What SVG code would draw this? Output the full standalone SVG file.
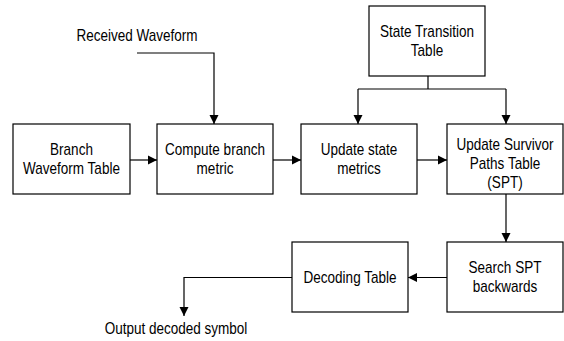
<svg xmlns="http://www.w3.org/2000/svg" width="564" height="341" viewBox="0 0 564 341">
  <defs>
    <style>
      .box { fill: #fff; stroke: #000; stroke-width: 1.2; }
      .wire { fill: none; stroke: #000; stroke-width: 1.2; }
      text { font-family: "Liberation Sans", Arial, sans-serif; font-size: 16px; fill: #000; text-anchor: middle; }
    </style>
    <marker id="arrow" markerUnits="userSpaceOnUse" markerWidth="10" markerHeight="10" viewBox="0 0 10 10" refX="9" refY="5" orient="auto">
      <path d="M0,0.5 L9,5 L0,9.5 Z" fill="#000"/>
    </marker>
  </defs>
  <rect width="564" height="341" fill="#fff"/>

  <!-- connectors -->
  <g id="connectors">
    <path class="wire" d="M137 53 H214 V124" marker-end="url(#arrow)"/>
    <path class="wire" d="M130 160 H157" marker-end="url(#arrow)"/>
    <path class="wire" d="M273 160 H301" marker-end="url(#arrow)"/>
    <path class="wire" d="M428 76 V89 M358 89 H506"/>
    <path class="wire" d="M358 89 V124" marker-end="url(#arrow)"/>
    <path class="wire" d="M506 89 V124" marker-end="url(#arrow)"/>
    <path class="wire" d="M417 160 H447" marker-end="url(#arrow)"/>
    <path class="wire" d="M506 194 V242" marker-end="url(#arrow)"/>
    <path class="wire" d="M447 277.5 H408" marker-end="url(#arrow)"/>
    <path class="wire" d="M292 277.5 H184 V316" marker-end="url(#arrow)"/>
  </g>

  <!-- free labels -->
  <g id="received-waveform">
    <text transform="translate(137 41) scale(0.845 1)">Received Waveform</text>
  </g>
  <g id="output-symbol">
    <text transform="translate(176 334) scale(0.845 1)">Output decoded symbol</text>
  </g>

  <!-- nodes -->
  <g id="branch-waveform-table">
    <rect class="box" x="13" y="124" width="117" height="70"/>
    <text transform="translate(71.5 155) scale(0.845 1)">Branch</text>
    <text transform="translate(71.5 174) scale(0.845 1)">Waveform Table</text>
  </g>
  <g id="compute-branch-metric">
    <rect class="box" x="157" y="124" width="116" height="70"/>
    <text transform="translate(215 155) scale(0.845 1)">Compute branch</text>
    <text transform="translate(215 174) scale(0.845 1)">metric</text>
  </g>
  <g id="state-transition-table">
    <rect class="box" x="369" y="6" width="116" height="70"/>
    <text transform="translate(427 37) scale(0.845 1)">State Transition</text>
    <text transform="translate(427 56) scale(0.845 1)">Table</text>
  </g>
  <g id="update-state-metrics">
    <rect class="box" x="301" y="124" width="116" height="70"/>
    <text transform="translate(359 155) scale(0.845 1)">Update state</text>
    <text transform="translate(359 174) scale(0.845 1)">metrics</text>
  </g>
  <g id="update-survivor-paths">
    <rect class="box" x="447" y="124" width="116" height="70"/>
    <text transform="translate(505 150) scale(0.845 1)">Update Survivor</text>
    <text transform="translate(505 169) scale(0.845 1)">Paths Table</text>
    <text transform="translate(505 188) scale(0.845 1)">(SPT)</text>
  </g>
  <g id="search-spt-backwards">
    <rect class="box" x="447" y="242" width="116" height="70"/>
    <text transform="translate(505 273) scale(0.845 1)">Search SPT</text>
    <text transform="translate(505 292) scale(0.845 1)">backwards</text>
  </g>
  <g id="decoding-table">
    <rect class="box" x="292" y="242" width="116" height="70"/>
    <text transform="translate(350 282.5) scale(0.845 1)">Decoding Table</text>
  </g>
</svg>
